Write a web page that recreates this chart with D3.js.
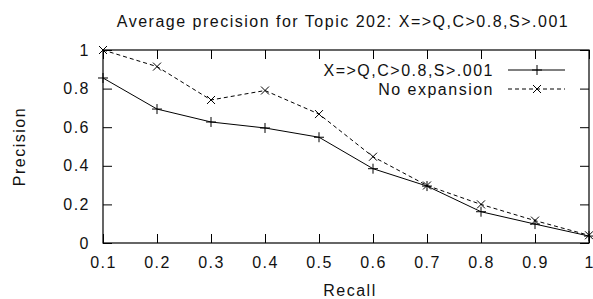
<!DOCTYPE html>
<html>
<head>
<meta charset="utf-8">
<script src="https://cdn.jsdelivr.net/npm/d3@7"></script>
<style>
  body { margin: 0; background: #fff; }
  text { font-family: "Liberation Sans", Arial, sans-serif; fill: #111; }
</style>
</head>
<body>
<div id="chart"></div>
<script>
const recall = [0.1, 0.2, 0.3, 0.4, 0.5, 0.6, 0.7, 0.8, 0.9, 1];
const expanded = [0.855, 0.694, 0.627, 0.596, 0.548, 0.385, 0.295, 0.162, 0.098, 0.036];
const noExpansion = [1.0, 0.914, 0.741, 0.79, 0.668, 0.447, 0.298, 0.2, 0.116, 0.04];
const xTicks = [0.1, 0.2, 0.3, 0.4, 0.5, 0.6, 0.7, 0.8, 0.9, 1];
const yTicks = [0, 0.2, 0.4, 0.6, 0.8, 1];
const seriesNames = ["X=>Q,C>0.8,S>.001", "No expansion"];

const width = 593, height = 299;
const margin = { top: 50, right: 4, bottom: 56, left: 103 };
const w = width - margin.left - margin.right,
  h = height - margin.top - margin.bottom;

const svg = d3.select("#chart").append("svg")
  .attr("width", width)
  .attr("height", height);

const g = svg.append("g")
  .attr("transform", `translate(${margin.left},${margin.top})`);

const x = d3.scaleLinear().domain([0.1, 1]).range([0, w]);
const y = d3.scaleLinear().domain([0, 1]).range([h, 0]);

const fmt = d => d === 0 || d === 1 ? String(d) : d3.format(".1f")(d);
const tick = 9;
const spacing = "1.5px";

// ticks inward, mirrored on all four sides
const xAxis = g.append("g")
  .attr("transform", `translate(0,${h})`)
  .call(d3.axisBottom(x).tickValues(xTicks).tickSize(-tick).tickPadding(tick + 5).tickFormat(fmt))
  .call(a => a.select(".domain").remove());
g.append("g")
  .call(d3.axisTop(x).tickValues(xTicks).tickSize(-tick).tickFormat(""))
  .call(a => a.select(".domain").remove());
g.append("g")
  .call(d3.axisLeft(y).tickValues(yTicks).tickSize(-tick).tickPadding(tick + 4).tickFormat(fmt))
  .call(a => a.select(".domain").remove());
g.append("g")
  .attr("transform", `translate(${w},0)`)
  .call(d3.axisRight(y).tickValues(yTicks).tickSize(-tick).tickFormat(""))
  .call(a => a.select(".domain").remove());

g.selectAll(".tick line").attr("stroke", "#000").attr("stroke-width", 1);
g.selectAll(".tick text")
  .style("font-size", "16px")
  .style("letter-spacing", spacing)
  .style("font-family", "'Liberation Sans', Arial, sans-serif")
  .attr("fill", "#111");

// last x label sits at the right edge, keep it inside the picture
xAxis.selectAll(".tick text").filter(d => d === 1)
  .attr("text-anchor", "end")
  .attr("dx", "4")
  .style("letter-spacing", "0px");

g.append("rect")
  .attr("width", w).attr("height", h)
  .attr("fill", "none").attr("stroke", "#000").attr("stroke-width", 1.2);

const line = d3.line().x(d => x(d[0])).y(d => y(d[1]));
const s1 = recall.map((r, i) => [r, expanded[i]]);
const s2 = recall.map((r, i) => [r, noExpansion[i]]);

function plus(sel, cx, cy) {
  sel.append("path")
    .attr("d", `M${cx - 5},${cy}H${cx + 5}M${cx},${cy - 5}V${cy + 5}`)
    .attr("stroke", "#000").attr("stroke-width", 1);
}
function cross(sel, cx, cy) {
  sel.append("path")
    .attr("d", `M${cx - 4},${cy - 4}L${cx + 4},${cy + 4}M${cx - 4},${cy + 4}L${cx + 4},${cy - 4}`)
    .attr("stroke", "#000").attr("stroke-width", 1);
}

g.append("path").datum(s1).attr("d", line)
  .attr("fill", "none").attr("stroke", "#000").attr("stroke-width", 1);
g.append("path").datum(s2).attr("d", line)
  .attr("fill", "none").attr("stroke", "#000").attr("stroke-width", 1)
  .attr("stroke-dasharray", "4,3");

const m1 = g.append("g"), m2 = g.append("g");
s1.forEach(d => plus(m1, x(d[0]), y(d[1])));
s2.forEach(d => cross(m2, x(d[0]), y(d[1])));

// legend
const legend = svg.append("g");
const lx = 494, rowY = [70, 89];
seriesNames.forEach((name, i) => {
  legend.append("text")
    .attr("x", lx).attr("y", rowY[i])
    .attr("dy", "0.35em")
    .attr("text-anchor", "end")
    .style("font-size", "16px")
    .style("letter-spacing", spacing)
    .text(name);
  const l = legend.append("line")
    .attr("x1", 508).attr("x2", 565)
    .attr("y1", rowY[i]).attr("y2", rowY[i])
    .attr("stroke", "#000").attr("stroke-width", 1);
  if (i === 1) l.attr("stroke-dasharray", "4,3");
  if (i === 0) plus(legend, 537, rowY[i]); else cross(legend, 537, rowY[i]);
});

svg.append("text")
  .attr("x", 343).attr("y", 27)
  .attr("text-anchor", "middle")
  .style("font-size", "16px")
  .style("letter-spacing", spacing)
  .text("Average precision for Topic 202: X=>Q,C>0.8,S>.001");

svg.append("text")
  .attr("x", margin.left + w / 2 + 4).attr("y", 296)
  .attr("text-anchor", "middle")
  .style("font-size", "16px")
  .style("letter-spacing", spacing)
  .text("Recall");

svg.append("text")
  .attr("transform", `translate(25,${margin.top + h / 2}) rotate(-90)`)
  .attr("text-anchor", "middle")
  .style("font-size", "16px")
  .style("letter-spacing", spacing)
  .text("Precision");
</script>
</body>
</html>
